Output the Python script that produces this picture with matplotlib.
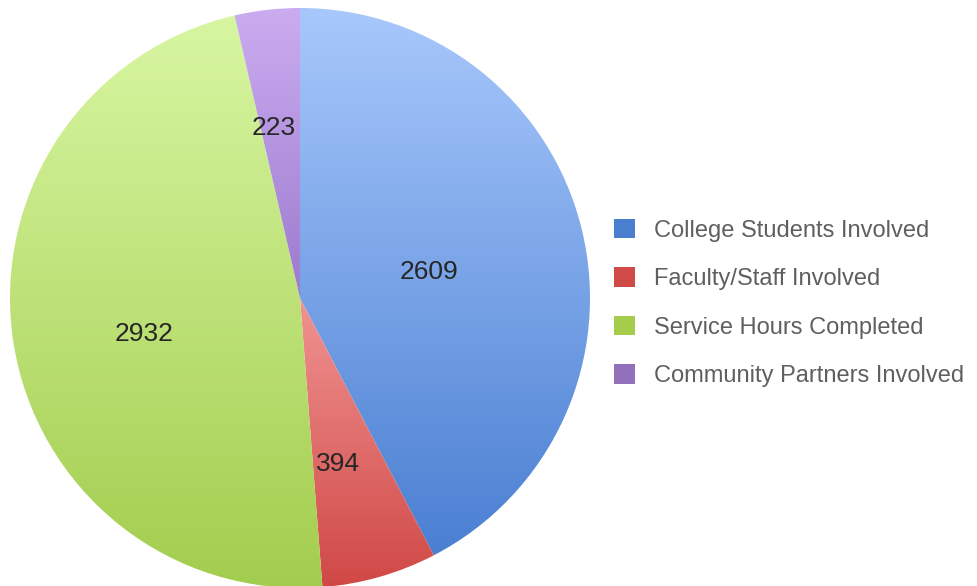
import numpy as np
import matplotlib
matplotlib.use("Agg")
import matplotlib.pyplot as plt
from matplotlib.patches import Patch
from matplotlib.colors import to_rgb

# data
categories = ["College Students Involved", "Faculty/Staff Involved",
              "Service Hours Completed", "Community Partners Involved"]
values = [2609, 394, 2932, 223]

# colours: legend swatch, gradient top, gradient bottom
legend_colors = ["#4a7fcf", "#d04a48", "#a5cc4a", "#9370bb"]
top_colors = ["#a8c8fc", "#f09492", "#d8f6a2", "#cbacf0"]
bottom_colors = ["#4a7fd2", "#d04846", "#a3cd4e", "#9c7ace"]
# label placement (fraction of radius, angle nudge in degrees)
label_dist = [0.455, 0.58, 0.55, 0.60]
label_nudge = [-1.4, -3.0, 3.5, 2.1]

plt.rcParams['font.family'] = ['Liberation Sans', 'DejaVu Sans']

W, H = 978, 586
fig = plt.figure(figsize=(W / 100, H / 100), dpi=100)
ax = fig.add_axes([10 / W, -2 / H, 580 / W, 580 / H])

wedges, _ = ax.pie(values, startangle=90, counterclock=False, radius=1,
                   colors=["none"] * 4, wedgeprops=dict(linewidth=0))
ax.axis("off")


def gradient_fill(wedge, c_top, c_bot):
    ext = wedge.get_path().get_extents()
    n = 256
    t = np.linspace(0, 1, n)[:, None]
    top = np.array(to_rgb(c_top))
    bot = np.array(to_rgb(c_bot))
    img = top + t * (bot - top)
    img = np.repeat(img[:, None, :], 2, axis=1)
    im = ax.imshow(img, extent=[-1, 1, ext.y0, ext.y1], origin="upper",
                   aspect="auto", interpolation="bilinear", zorder=1)
    im.set_clip_path(wedge)


for i, w in enumerate(wedges):
    gradient_fill(w, top_colors[i], bottom_colors[i])
    mid = np.deg2rad((w.theta1 + w.theta2) / 2 + label_nudge[i])
    d = label_dist[i]
    ax.text(d * np.cos(mid), d * np.sin(mid), str(values[i]), ha="center",
            va="center_baseline", fontsize=19, color="#262626", zorder=3)

ax.set_xlim(-1, 1)
ax.set_ylim(-1, 1)
ax.set_aspect("equal")

handles = [Patch(facecolor=c, edgecolor="none") for c in legend_colors]
fig.legend(handles, categories, loc="center left",
           bbox_to_anchor=(614 / W, 1 - 303 / H), frameon=False,
           fontsize=17, handlelength=0.89, handleheight=0.89,
           handletextpad=0.8, labelspacing=1.09, borderpad=0,
           borderaxespad=0, labelcolor="#5f5f5f")

fig.savefig("out.png", dpi=100)
